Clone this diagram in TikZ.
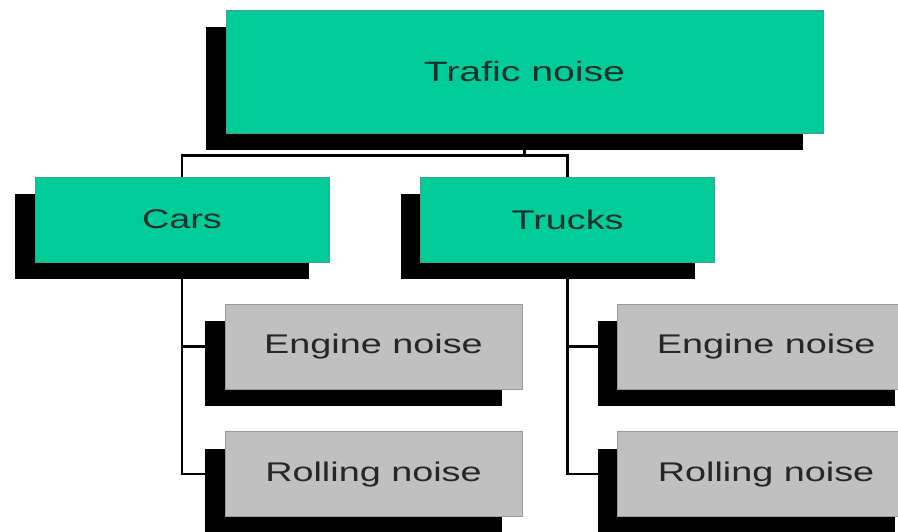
\documentclass[tikz,border=0pt]{standalone}
\usepackage{fontspec}
\setmainfont{Liberation Sans}
\usepackage{graphicx}
\usetikzlibrary{positioning,shadows,backgrounds}
\definecolor{noisegreen}{HTML}{00CC99}
\definecolor{noisegray}{HTML}{C0C0C0}
\definecolor{greenedge}{HTML}{3FA285}
\definecolor{grayedge}{HTML}{9A9A9A}
\definecolor{inktext}{HTML}{16302A}
\newcommand{\widetext}[1]{\scalebox{1.4}[1]{#1}}
\tikzset{
    %Define style for boxes
    punktgreen/.style={
           rectangle,
           fill=noisegreen,
           draw=greenedge, line width=0.6pt,
           inner sep=0pt,
           minimum width=294pt,
           minimum height=85pt,
           text=inktext,
           font=\fontsize{27}{30}\selectfont,
           drop shadow={shadow xshift=-20pt, shadow yshift=-17pt, fill=black, opacity=1}},
    punktgray/.style={
           punktgreen,
           fill=noisegray,
           draw=grayedge,
           minimum width=297pt,
           text=black!85},
    % Define line style
    pil/.style={
           draw=black,
           line width=2.5pt}
}
\begin{document}
\begin{tikzpicture}[x=1pt,y=-1pt,node distance=42pt]
\useasboundingbox (0,0) rectangle (898,531);
\clip (0,0) rectangle (898,531);
\node[punktgreen, minimum width=597pt, minimum height=123pt,
  font=\fontsize{28}{32}\selectfont] (traffic) at (524.5,71.5) {\widetext{Trafic noise}};
\node[punktgreen] (cars) at (182,219.5) {\widetext{Cars}};
\node[punktgreen, right=91pt of cars] (trucks) {\widetext{Trucks}};
\node[punktgray] (engine1) at (373.5,346.5) {\widetext{Engine noise}};
\node[punktgray, below=of engine1] (rolling1) {\widetext{Rolling noise}};
\node[punktgray, right=95pt of engine1] (engine2) {\widetext{Engine noise}};
\node[punktgray, below=of engine2] (rolling2) {\widetext{Rolling noise}};
\coordinate[below=22pt of traffic] (bus);
\begin{pgfonlayer}{background}
 \draw[pil] (traffic.south) -- (bus);
 \draw[pil] (cars.north) |- (bus) -| (trucks.north);
 \draw[pil] (cars.south) |- (engine1.west);
 \draw[pil] (cars.south) |- (rolling1.west);
 \draw[pil] (trucks.south) |- (engine2.west);
 \draw[pil] (trucks.south) |- (rolling2.west);
\end{pgfonlayer}
\end{tikzpicture}
\end{document}
